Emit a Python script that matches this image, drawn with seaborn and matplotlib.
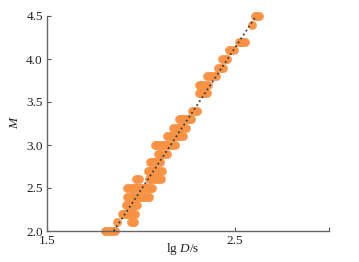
import numpy as np
import pandas as pd
import seaborn as sns
import matplotlib.pyplot as plt

levels = [2.0, 2.1, 2.2, 2.3, 2.4, 2.5, 2.6, 2.7, 2.8, 2.9, 3.0, 3.1, 3.2, 3.3,
          3.4, 3.6, 3.7, 3.8, 3.9, 4.0, 4.1, 4.2, 4.4, 4.5]
lgd_rows = [
    [1.81, 1.82, 1.83, 1.84, 1.85, 1.86],
    [1.87, 1.945, 1.955, 1.965],
    [1.90, 1.91, 1.92, 1.93, 1.94, 1.95, 1.96, 1.97],
    [1.92, 1.93, 1.94, 1.95, 1.96, 1.97, 1.98],
    [1.925, 1.935, 1.945, 1.955, 1.965, 1.975, 1.985, 1.995, 2.005, 2.015, 2.025, 2.035, 2.045],
    [1.925, 1.94, 1.95, 1.96, 1.97, 1.98, 1.99, 2.00, 2.01, 2.02, 2.03, 2.04, 2.05, 2.06],
    [1.972, 1.988, 2.04, 2.05, 2.06, 2.07, 2.08, 2.09, 2.105],
    [2.035, 2.045, 2.055, 2.065, 2.075, 2.085, 2.095, 2.11],
    [2.05, 2.06, 2.07, 2.08, 2.09, 2.10],
    [2.088, 2.10, 2.11, 2.12, 2.137],
    [2.072, 2.085, 2.095, 2.105, 2.115, 2.125, 2.135, 2.145, 2.155, 2.165, 2.18],
    [2.14, 2.15, 2.16, 2.17, 2.18, 2.19, 2.20, 2.21, 2.222],
    [2.172, 2.185, 2.195, 2.205, 2.215, 2.225, 2.238],
    [2.204, 2.215, 2.225, 2.235, 2.245, 2.255, 2.268],
    [2.273, 2.285, 2.30],
    [2.309, 2.32, 2.33, 2.34, 2.349],
    [2.309, 2.32, 2.33, 2.34, 2.354],
    [2.352, 2.365, 2.375, 2.39, 2.40],
    [2.41, 2.425, 2.438],
    [2.43, 2.445, 2.458],
    [2.468, 2.48, 2.495],
    [2.52, 2.53, 2.54, 2.553],
    [2.59],
    [2.605, 2.615, 2.627],
]
# fitted relation, end points
fit_lgd = [1.855, 2.612]
fit_m = [2.0, 4.5]

xticks = [1.5, 2.5, 3.0]
xtick_labels = ['1.5', '2.5', '']
yticks = [2.0, 2.5, 3.0, 3.5, 4.0, 4.5]

rows = [(x, m) for m, xs in zip(levels, lgd_rows) for x in xs]
df = pd.DataFrame(rows, columns=['lgD', 'M'])

sns.set_style("ticks")
plt.rcParams['font.family'] = ['Liberation Serif', 'DejaVu Serif']
plt.rcParams['mathtext.fontset'] = 'custom'
plt.rcParams['mathtext.rm'] = 'Liberation Serif'
plt.rcParams['mathtext.it'] = 'Liberation Serif:italic'

fig = plt.figure(figsize=(3.59, 2.62), dpi=100)
ax = fig.add_axes([47/359, 1-231/262, 282/359, 215/262])

sns.scatterplot(data=df, x='lgD', y='M', ax=ax, color='#F79245', s=40,
                linewidth=0, alpha=0.95, zorder=2, legend=False, clip_on=False)
ax.plot(fit_lgd, fit_m, ls=(0, (1, 1.6)), color='#3a3a3a', lw=1.3, zorder=3,
        clip_on=False)

ax.set_xlim(1.5, 3.0)
ax.set_ylim(2.0, 4.5)
ax.set_xticks(xticks)
ax.set_xticklabels(xtick_labels)
ax.set_yticks(yticks)
ax.set_yticklabels([f'{v:.1f}' for v in yticks])
ax.tick_params(direction='in', length=3, width=0.8, color='#555555',
               labelsize=9.5, labelcolor='#222222', pad=3)

sns.despine(ax=ax)
for s in ['left', 'bottom']:
    ax.spines[s].set_color('#666666')
    ax.spines[s].set_linewidth(1.0)

ax.set_xlabel('lg $D$/s', fontsize=9.5, color='#222222')
ax.xaxis.set_label_coords(0.48, -0.045)
ax.set_ylabel('M', fontsize=9.5, style='italic', color='#222222')
ax.yaxis.set_label_coords(-0.09, 0.5)

fig.savefig('out.png', dpi=100)
